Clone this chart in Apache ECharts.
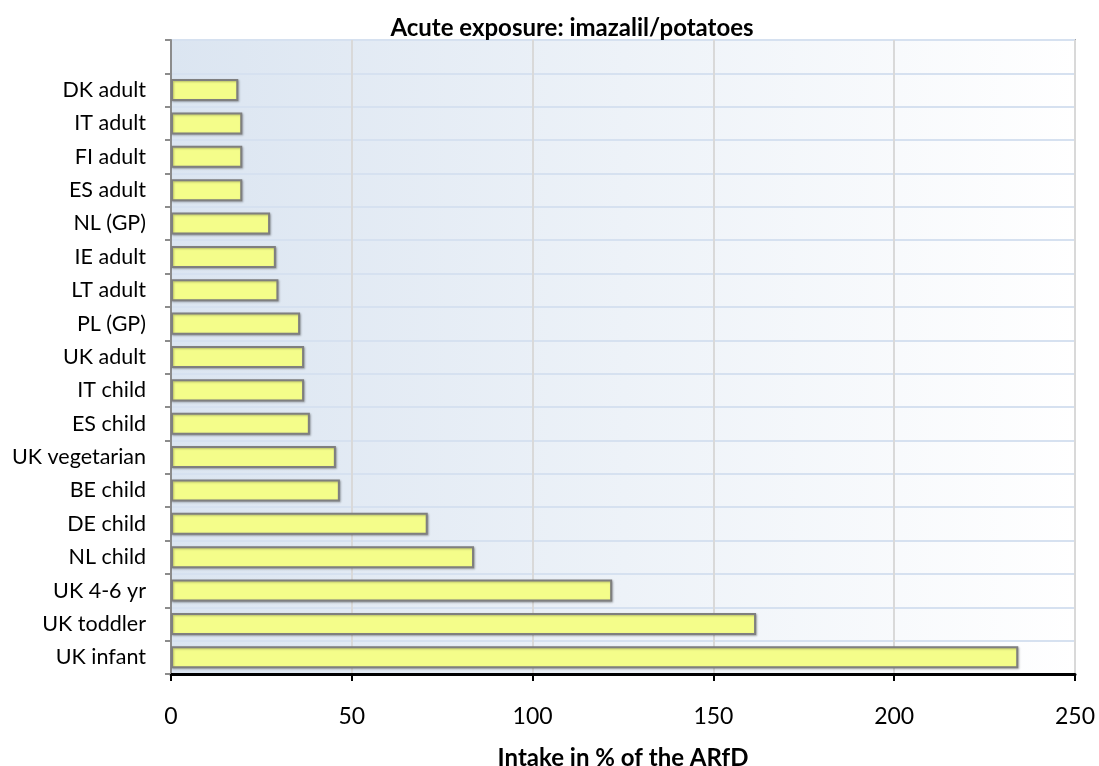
<!DOCTYPE html>
<html>
<head>
<meta charset="utf-8">
<title>Acute exposure: imazalil/potatoes</title>
<script src="https://cdn.jsdelivr.net/npm/echarts@6/dist/echarts.min.js"></script>
<style>
  html, body { margin: 0; padding: 0; background: #ffffff; }
  #chart { width: 1099px; height: 766px; }
</style>
</head>
<body>
<div id="chart"></div>
<script>
// Population groups, listed bottom to top; the blank entry leaves an empty slot at the top.
const groups = [
  'UK infant', 'UK toddler', 'UK 4-6 yr', 'NL child', 'DE child', 'BE child',
  'UK vegetarian', 'ES child', 'IT child', 'UK adult', 'PL (GP)', 'LT adult',
  'IE adult', 'NL (GP)', 'ES adult', 'FI adult', 'IT adult', 'DK adult', ''
];
// Intake as % of the ARfD for each group
const intakePct = [
  234.3, 161.8, 122.0, 83.8, 71.0, 46.7,
  45.6, 38.4, 36.8, 36.8, 35.7, 29.7,
  29.0, 27.4, 19.7, 19.7, 19.7, 18.6, null
];
const xTicks = [0, 50, 100, 150, 200, 250];

const FONT = 'Lato';
const chart = echarts.init(document.getElementById('chart'), null, { renderer: 'canvas' });

chart.setOption({
  animation: false,
  textStyle: { fontFamily: FONT, color: '#000' },
  title: {
    text: 'Acute exposure: imazalil/potatoes',
    left: 567,
    textAlign: 'center',
    top: 11,
    textStyle: { fontFamily: FONT, fontSize: 24, fontWeight: 'bold', color: '#000' }
  },
  grid: {
    left: 171, right: 24, top: 40, bottom: 92,
    outerBoundsMode: 'none',
    containLabel: false,
    show: true,
    borderColor: '#a6a6a6',
    borderWidth: 2,
    backgroundColor: new echarts.graphic.LinearGradient(0, 0, 1, 0, [
      { offset: 0, color: '#dbe5f1' },
      { offset: 1, color: '#ffffff' }
    ])
  },
  xAxis: {
    type: 'value',
    min: xTicks[0],
    max: xTicks[xTicks.length - 1],
    interval: xTicks[1] - xTicks[0],
    name: 'Intake in % of the ARfD',
    nameLocation: 'middle',
    nameGap: 72,
    nameTextStyle: { fontFamily: FONT, fontSize: 24, fontWeight: 'bold', color: '#000' },
    axisLine: { show: true, lineStyle: { color: '#000', width: 3 } },
    axisTick: { show: true, length: 7, lineStyle: { color: '#000', width: 2 } },
    axisLabel: { fontFamily: FONT, fontSize: 23, color: '#000', margin: 31 },
    splitLine: { show: true, lineStyle: { color: '#d9d9d9', width: 2 } }
  },
  yAxis: {
    type: 'category',
    data: groups,
    axisLine: { show: true, lineStyle: { color: '#8c8c8c', width: 2 } },
    axisTick: { show: true, length: 6, interval: 0, lineStyle: { color: '#8c8c8c', width: 2 } },
    axisLabel: { fontFamily: FONT, fontSize: 21.5, color: '#000', margin: 25, interval: 0 },
    splitLine: { show: true, interval: 0, lineStyle: { color: '#d6e1f0', width: 2 } }
  },
  series: [{
    type: 'bar',
    data: intakePct,
    barCategoryGap: '34%',
    itemStyle: {
      color: '#f4fd8a',
      borderColor: '#7f7f7f',
      borderWidth: 2,
      shadowColor: 'rgba(0,0,0,0.25)',
      shadowBlur: 2,
      shadowOffsetX: 1,
      shadowOffsetY: 1
    }
  }]
});
</script>
</body>
</html>
